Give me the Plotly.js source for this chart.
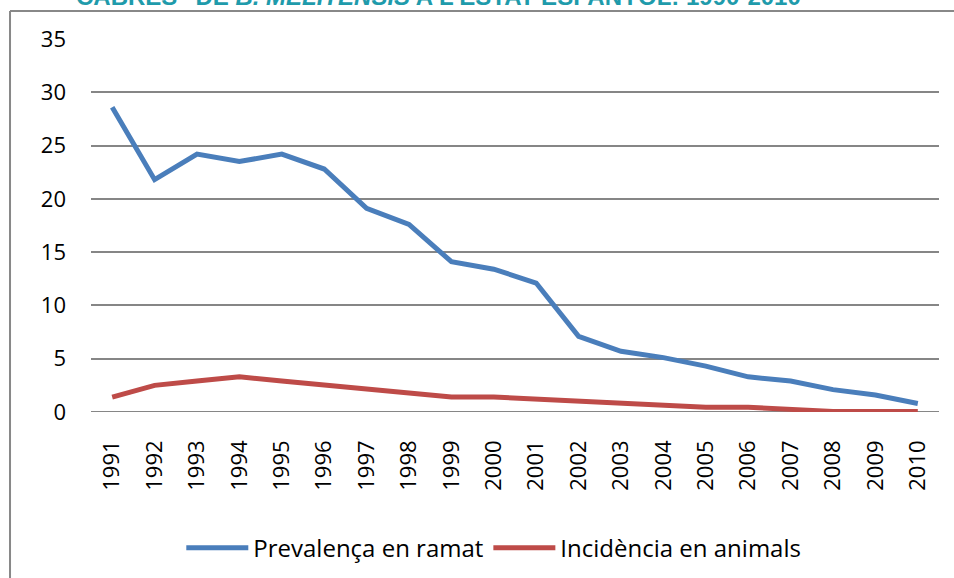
<!DOCTYPE html>
<html>
<head>
<meta charset="utf-8">
<script src="https://cdn.plot.ly/plotly-3.0.1.min.js"></script>
<style>
html,body{margin:0;padding:0;background:#fff;}
#chart{width:954px;height:578px;}
</style>
</head>
<body>
<div id="chart"></div>
<script>
var years = ["1991","1992","1993","1994","1995","1996","1997","1998","1999","2000",
             "2001","2002","2003","2004","2005","2006","2007","2008","2009","2010"];
var prevalenca = [28.6, 21.8, 24.2, 23.5, 24.2, 22.8, 19.1, 17.6, 14.1, 13.4,
                  12.1, 7.1, 5.7, 5.1, 4.3, 3.3, 2.9, 2.1, 1.6, 0.8];
var incidencia = [1.4, 2.5, 2.9, 3.3, 2.9, 2.5, 2.1, 1.8, 1.4, 1.4,
                  1.2, 1.0, 0.8, 0.6, 0.45, 0.45, 0.25, 0.05, 0.05, 0.05];
var seriesNames = ["Prevalença en ramat", "Incidència en animals"];
var yTicks = [0, 5, 10, 15, 20, 25, 30, 35];
var titleText = "CABRES\" DE <i>B. MELITENSIS</i> A L'ESTAT ESPANYOL: 1990-2010";

var font = "Open Sans, Liberation Sans, Arial, sans-serif";

var traces = [
  {x: years, y: prevalenca, name: seriesNames[0], type: "scatter", mode: "lines",
   line: {color: "#4A7EBB", width: 5}},
  {x: years, y: incidencia, name: seriesNames[1], type: "scatter", mode: "lines",
   line: {color: "#BE4B48", width: 5}}
];

var layout = {
  width: 954, height: 578,
  margin: {l: 91, r: 15, t: 39, b: 166, pad: 0, autoexpand: false},
  paper_bgcolor: "#fff", plot_bgcolor: "#fff",
  font: {family: font, color: "#000"},
  showlegend: true,
  legend: {orientation: "h", x: 0.475, xanchor: "center", y: -0.365, yanchor: "middle",
           font: {size: 24, family: font}, itemwidth: 62, tracegroupgap: 0},
  xaxis: {type: "category", range: [-0.5, 19.5], showgrid: false, zeroline: false,
          showline: false, ticks: "", tickangle: -90, tickfont: {size: 22, family: font},
          ticklabelstandoff: 23, automargin: false, fixedrange: true},
  yaxis: {range: [0, 35], tickvals: yTicks, ticktext: yTicks.map(String),
          showgrid: true, gridcolor: "#868686", gridwidth: 2,
          zeroline: false, showline: false, ticks: "", automargin: false,
          tickfont: {size: 22, family: font}, ticklabelstandoff: 24, fixedrange: true},
  shapes: [
    {type: "line", xref: "paper", yref: "paper", x0: -0.0955, x1: 1.02, y0: 1.075, y1: 1.075,
     line: {color: "#888888", width: 2}},
    {type: "line", xref: "paper", yref: "paper", x0: -0.0955, x1: -0.0955, y0: 1.075, y1: -0.5,
     line: {color: "#888888", width: 2}},
    {type: "line", xref: "paper", yref: "y", x0: 0, x1: 1, y0: 0, y1: 0,
     line: {color: "#868686", width: 2}, layer: "below"}
  ],
  annotations: [
    {text: "<b>" + titleText + "</b>", xref: "paper", yref: "paper", x: 0.41, y: 1.072,
     xanchor: "center", yanchor: "bottom", showarrow: false,
     font: {size: 24, color: "#1F9BAB", family: "Liberation Sans, Arial, sans-serif"}}
  ]
};

Plotly.newPlot("chart", traces, layout, {displayModeBar: false, staticPlot: true});
</script>
</body>
</html>
